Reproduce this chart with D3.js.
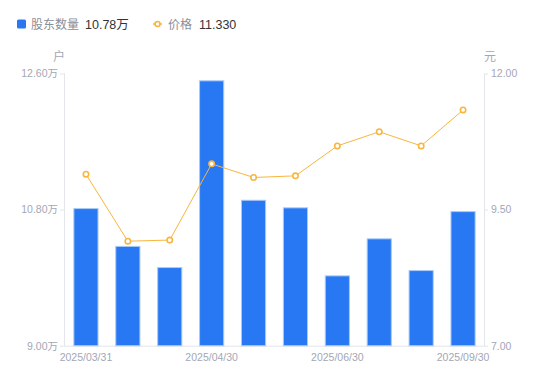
<!DOCTYPE html>
<html><head><meta charset="utf-8">
<script src="https://cdn.jsdelivr.net/npm/d3@7"></script>
<style>body{margin:0;background:#fff;}svg{display:block;font-family:"Noto Sans CJK SC","Noto Sans",sans-serif;}</style>
</head><body>
<svg id="c" width="550" height="381"></svg>
<script>
const categories = ["2025/03/31","2025/04/10","2025/04/20","2025/04/30","2025/05/20","2025/06/10","2025/06/30","2025/07/31","2025/08/31","2025/09/30"];
const holders = [10.82,10.32,10.04,12.51,10.93,10.83,9.93,10.42,10.00,10.78];
const prices = [10.15,8.92,8.94,10.34,10.09,10.12,10.67,10.93,10.67,11.33];
const leftTicks = [9.00,10.80,12.60];
const rightTicks = [7.00,9.50,12.00];
const shownLabels = ["2025/03/31","2025/04/30","2025/06/30","2025/09/30"];

const svg = d3.select("#c");
const m = {l:65, r:484, t:73.5, b:345.7};
const x = d3.scaleBand().domain(categories).range([m.l,m.r]).paddingInner(0.4).paddingOuter(0.2);
const yL = d3.scaleLinear().domain([9,12.6]).range([m.b,m.t]);
const yR = d3.scaleLinear().domain([7,12]).range([m.b,m.t]);
const axisCol = "#e3e5ea", txtCol = "#a3a7b5";

// axes
const gL = svg.append("g").attr("transform",`translate(${m.l},0)`)
  .call(d3.axisLeft(yL).tickValues(leftTicks).tickSize(5).tickPadding(2).tickFormat(d=>d.toFixed(2)+"万"));
const gR = svg.append("g").attr("transform",`translate(${m.r},0)`)
  .call(d3.axisRight(yR).tickValues(rightTicks).tickSize(4).tickPadding(3).tickFormat(d=>d.toFixed(2)));
const gB = svg.append("g").attr("transform",`translate(0,${m.b})`)
  .call(d3.axisBottom(x).tickValues(shownLabels).tickSize(0).tickPadding(8));
[gL,gR,gB].forEach(g=>{
  g.select(".domain").attr("stroke",axisCol);
  g.selectAll(".tick line").attr("stroke",axisCol);
  g.selectAll("text").attr("fill",txtCol).style("font-family","'Liberation Sans',Arial,sans-serif").attr("font-size",10.5);
});
gL.selectAll("text").style("font-family","'Liberation Sans','Noto Sans CJK SC',sans-serif");
gB.select(".domain").attr("d",`M${m.l},0.5H${m.r}`);
gL.select(".domain").attr("d",`M-0.5,${m.t}V${m.b}`);
gR.select(".domain").attr("d",`M0.5,${m.t}V${m.b}`);

svg.append("text").attr("x",59).attr("y",61).attr("text-anchor","middle").attr("fill",txtCol).attr("font-size",12).text("户");
svg.append("text").attr("x",490).attr("y",61).attr("text-anchor","middle").attr("fill",txtCol).attr("font-size",12).text("元");

// bars
svg.append("g").selectAll("rect").data(categories).join("rect")
  .attr("x",(d)=>x(d)+0.5).attr("width",x.bandwidth()-1)
  .attr("y",(d,i)=>yL(holders[i])+0.5).attr("height",(d,i)=>m.b-yL(holders[i])-0.5)
  .attr("fill","#2778f2").attr("stroke","#a9c9f8").attr("stroke-width",1);

// line
const cx = d=>x(d)+x.bandwidth()/2;
const lineCol = "#f8b63e";
svg.append("path").datum(categories)
  .attr("d",d3.line().x(cx).y((d,i)=>yR(prices[i])))
  .attr("fill","none").attr("stroke",lineCol).attr("stroke-width",1);
svg.append("g").selectAll("circle").data(categories).join("circle")
  .attr("cx",cx).attr("cy",(d,i)=>yR(prices[i])).attr("r",2.7)
  .attr("fill","#fff").attr("stroke",lineCol).attr("stroke-width",1.6);

// legend
const lg = svg.append("g").attr("font-size",12);
lg.append("rect").attr("x",17).attr("y",19.5).attr("width",9).attr("height",9).attr("rx",1.5).attr("fill","#2778f2");
lg.append("text").attr("x",31).attr("y",29).attr("fill","#8a8e99").text("股东数量");
lg.append("text").attr("x",85).attr("y",29).attr("fill","#333").attr("font-size",12.5).style("font-family","'Liberation Sans','Noto Sans CJK SC',sans-serif").text(holders[holders.length-1].toFixed(2)+"万");
lg.append("line").attr("x1",153).attr("x2",162).attr("y1",24).attr("y2",24).attr("stroke",lineCol).attr("stroke-width",1.5);
lg.append("circle").attr("cx",157.5).attr("cy",24).attr("r",2.5).attr("fill","#fff").attr("stroke",lineCol).attr("stroke-width",1.6);
lg.append("text").attr("x",168).attr("y",29).attr("fill","#8a8e99").text("价格");
lg.append("text").attr("x",199).attr("y",29).attr("fill","#333").attr("font-size",12.5).style("font-family","'Liberation Sans','Noto Sans CJK SC',sans-serif").text(prices[prices.length-1].toFixed(3));
</script>
</body></html>
